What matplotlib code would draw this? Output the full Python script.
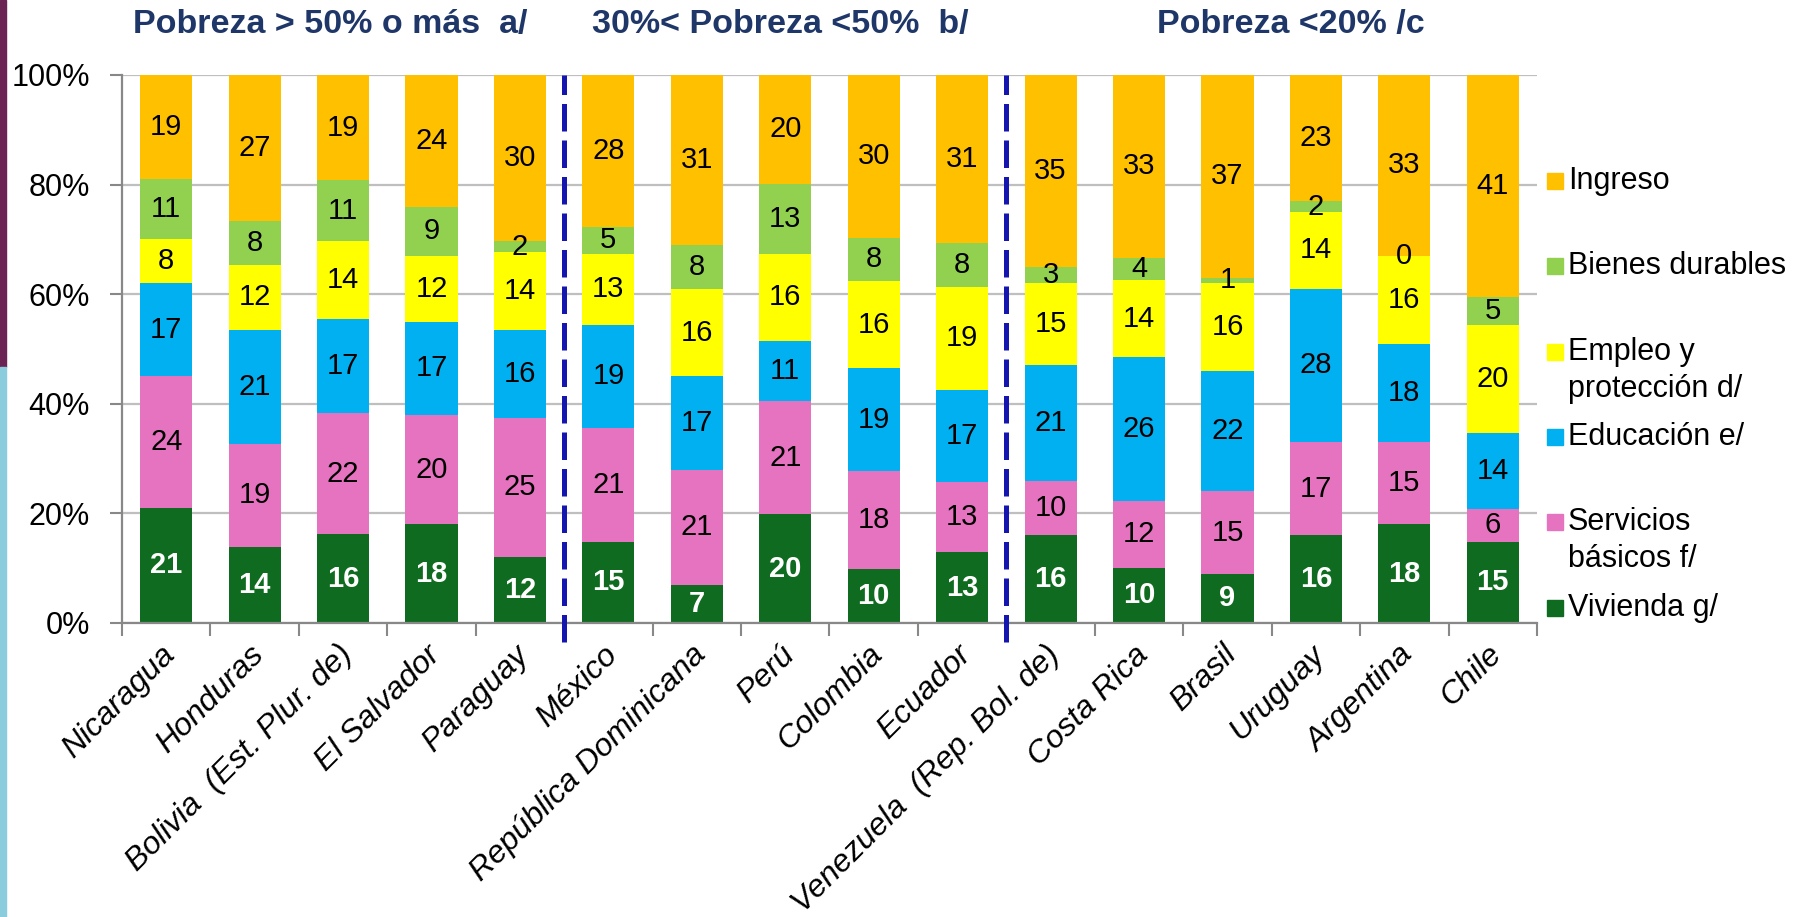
import matplotlib
matplotlib.use('Agg')
import matplotlib.pyplot as plt
import matplotlib.transforms as mtransforms
from matplotlib.patches import Rectangle
import numpy as np

plt.rcParams['font.family'] = ['Liberation Sans', 'DejaVu Sans']

countries = ['Nicaragua', 'Honduras', 'Bolivia  (Est. Plur. de)', 'El Salvador', 'Paraguay',
             'México', 'República Dominicana', 'Perú', 'Colombia', 'Ecuador',
             'Venezuela  (Rep. Bol. de)', 'Costa Rica', 'Brasil', 'Uruguay', 'Argentina', 'Chile']

vivienda = [21, 14, 16, 18, 12, 15, 7, 20, 10, 13, 16, 10, 9, 16, 18, 15]
servicios = [24, 19, 22, 20, 25, 21, 21, 21, 18, 13, 10, 12, 15, 17, 15, 6]
educacion = [17, 21, 17, 17, 16, 19, 17, 11, 19, 17, 21, 26, 22, 28, 18, 14]
empleo = [8, 12, 14, 12, 14, 13, 16, 16, 16, 19, 15, 14, 16, 14, 16, 20]
bienes = [11, 8, 11, 9, 2, 5, 8, 13, 8, 8, 3, 4, 1, 2, 0, 5]
ingreso = [19, 27, 19, 24, 30, 28, 31, 20, 30, 31, 35, 33, 37, 23, 33, 41]

series_names = ['Vivienda g/', 'Servicios\nbásicos f/', 'Educación e/',
                'Empleo y\nprotección d/', 'Bienes durables', 'Ingreso']
series_colors = ['#0F6B1F', '#E673BF', '#00B0F0', '#FFFF00', '#92D050', '#FFC000']

group_titles = ['Pobreza > 50% o más  a/', '30%< Pobreza <50%  b/', 'Pobreza <20% /c']
group_breaks = [4.5, 9.5]
yticks = [0, 0.2, 0.4, 0.6, 0.8, 1.0]
ytick_labels = ['0%', '20%', '40%', '60%', '80%', '100%']

W, H = 1799, 917
fig = plt.figure(figsize=(W / 100, H / 100), dpi=100)
fig.patch.set_facecolor('white')

# left decorative stripes
fig.patches.append(Rectangle((0, 1 - 367 / H), 6 / W, 367 / H, transform=fig.transFigure,
                             color='#6A2352', zorder=0))
fig.patches.append(Rectangle((0, 0), 6 / W, 1 - 367 / H, transform=fig.transFigure,
                             color='#8CCDDD', zorder=0))

ax = fig.add_axes([122 / W, 1 - 623 / H, (1537 - 122) / W, (623 - 75) / H])

values = np.array([vivienda, servicios, educacion, empleo, bienes, ingreso], dtype=float)
shares = values / values.sum(axis=0)
x = np.arange(len(countries))
bottom = np.zeros(len(countries))
for i in range(len(series_names)):
    ax.bar(x, shares[i], 0.59, bottom=bottom, color=series_colors[i], zorder=2, linewidth=0)
    for j in range(len(countries)):
        yc = bottom[j] + shares[i][j] / 2
        if i == 0:
            ax.text(x[j], yc, f'{int(values[i][j])}', ha='center', va='center', fontsize=21,
                    color='white', fontweight='bold', zorder=4)
        else:
            ax.text(x[j], yc, f'{int(values[i][j])}', ha='center', va='center', fontsize=21,
                    color='black', zorder=4)
    bottom += shares[i]

ax.set_xlim(-0.5, len(countries) - 0.5)
ax.set_ylim(0, 1)
ax.set_yticks(yticks)
ax.set_yticklabels(ytick_labels, fontsize=22)
ax.yaxis.grid(True, color='#BFBFBF', linewidth=1.6, zorder=0)
ax.set_axisbelow(True)
ax.tick_params(axis='y', length=9, width=1.5, color='#888888', pad=14)

ax.set_xticks(x)
ax.set_xticklabels(countries, rotation=45, ha='right', va='top', rotation_mode='anchor',
                   fontsize=23, style='italic')
ax.tick_params(axis='x', which='major', length=0, pad=12)
shift = mtransforms.ScaledTranslation(-6 / 100, 0, fig.dpi_scale_trans)
for lab in ax.get_xticklabels():
    lab.set_transform(lab.get_transform() + shift)
ax.set_xticks(np.arange(-0.5, len(countries)), minor=True)
ax.tick_params(axis='x', which='minor', length=9, width=1.5, color='#888888')

for s in ['top', 'right']:
    ax.spines[s].set_visible(False)
for s in ['left', 'bottom']:
    ax.spines[s].set_color('#888888')
    ax.spines[s].set_linewidth(1.6)

for xb in group_breaks:
    ax.plot([xb, xb], [-0.035, 1.0], color='#1515B0', linewidth=3.6,
            linestyle=(0, (5.5, 1.8)), clip_on=False, zorder=5)

# group titles
title_x = [330, 780, 1291]
for t, px in zip(group_titles, title_x):
    fig.text(px / W, 1 - 25 / H, t, ha='center', va='center', fontsize=24.5,
             fontweight='bold', color='#1F3768')

# legend (top to bottom)
leg_y = [181, 266, 352, 437, 522, 608]
for k, i in enumerate(range(len(series_names) - 1, -1, -1)):
    yc = leg_y[k]
    fig.patches.append(Rectangle((1547 / W, 1 - (yc + 8) / H), 16 / W, 16 / H,
                                 transform=fig.transFigure, color=series_colors[i]))
    for li, line in enumerate(series_names[i].split('\n')):
        fig.text(1568 / W, 1 - (yc + 37 * li) / H, line, ha='left', va='center',
                 fontsize=22, color='black')

fig.savefig('out.png', dpi=100)
